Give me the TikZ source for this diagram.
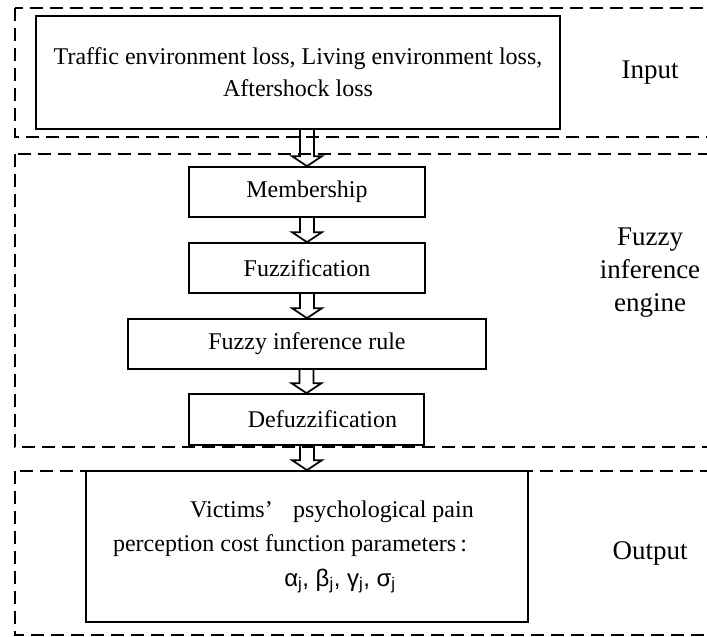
\documentclass[tikz,border=0pt]{standalone}
\usepackage{fontspec}
\setmainfont{Liberation Serif}
\newfontfamily\grk{Liberation Sans}
\usetikzlibrary{calc}
\tikzset{
  stage/.style={draw,line width=1.7pt,minimum height=50pt,inner sep=0pt,font=\fontsize{24}{32}\selectfont},
  frame/.style={line width=1.7pt,dash pattern=on 13pt off 7pt},
  tag/.style={align=center,font=\fontsize{27}{33}\selectfont},
  hollow/.style={line width=1.7pt,line join=miter}
}
\newcommand{\hollowarrow}[2]{%
  \draw[hollow] let \p1=(#1.south), \p2=(#2.north) in
    (\x2-7pt,\y1) -- (\x2-7pt,\y2+10pt) -- (\x2-15pt,\y2+10pt) -- (\x2,\y2)
    -- (\x2+15pt,\y2+10pt) -- (\x2+7pt,\y2+10pt) -- (\x2+7pt,\y1);}
\begin{document}
\begin{tikzpicture}[x=1pt,y=-1pt]
    \useasboundingbox (0,0) rectangle (707,637);
    % dashed frames, open to the right
    \draw[frame] (15,8) rectangle (730,137);
    \draw[frame] (15,154) rectangle (730,447);
    \draw[frame] (15,471) rectangle (730,635);

    \node[stage,minimum width=524pt,minimum height=113pt,align=center] (input) at (298,72.5)
       {Traffic environment loss, Living environment loss,\\Aftershock loss};
    \node[stage,minimum width=236pt] (member) at (307,192) {Membership};
    \node[stage,minimum width=236pt] (fuzz) at (307,268) {Fuzzification};
    \node[stage,minimum width=358pt] (rule) at (307,344) {Fuzzy inference rule};
    \node[stage,minimum width=235pt,minimum height=51pt] (defuzz) at (306.5,419.5) {\hspace*{32pt}Defuzzification};
    \node[stage,minimum width=442pt,minimum height=151pt] (output) at (307,546.5) {};
    \node[align=center,inner sep=0pt,font=\fontsize{24}{34.5}\selectfont] (outtxt) at (290,547)
       {\hspace*{84pt}Victims’\hspace{0.6em} psychological pain\\
        perception cost function parameters\,:\hspace*{0.3em}\\
        \hspace*{100pt}{\grk α\textsubscript{j}, β\textsubscript{j}, γ\textsubscript{j}, σ\textsubscript{j}}};

    \node[tag] (intag) at (650,73) {Input};
    \node[tag] (fietag) at (650,273) {Fuzzy\\inference\\engine};
    \node[tag] (outtag) at (650,553) {Output};

    \hollowarrow{input}{member}
    \hollowarrow{member}{fuzz}
    \hollowarrow{fuzz}{rule}
    \hollowarrow{rule}{defuzz}
    \hollowarrow{defuzz}{output}
\end{tikzpicture}
\end{document}
